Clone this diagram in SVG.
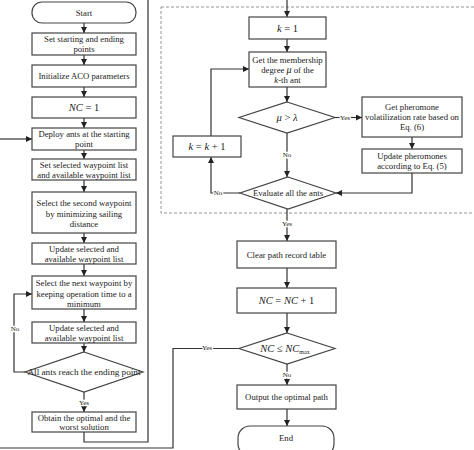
<svg xmlns="http://www.w3.org/2000/svg" width="474" height="450" viewBox="0 0 474 450">
<defs>
<marker id="ah" markerWidth="6" markerHeight="6" refX="6" refY="3" orient="auto" markerUnits="userSpaceOnUse">
<path d="M0,0 L6,3 L0,6 z" fill="#222"/>
</marker>
<style>
.b{fill:#fff;stroke:#444;stroke-width:1.2}
.c{fill:none;stroke:#333;stroke-width:1.2}
.t{font-family:"Liberation Serif","Times New Roman",serif;font-size:8.7px;fill:#222;text-anchor:middle}
.m{font-family:"Liberation Serif","Times New Roman",serif;font-size:10.5px;fill:#222;text-anchor:middle}
.l{font-family:"Liberation Serif","Times New Roman",serif;font-size:7px;fill:#222;text-anchor:middle;stroke:#fff;stroke-width:2.5;paint-order:stroke}
.i{font-style:italic}
.d{fill:none;stroke:#888;stroke-width:0.9;stroke-dasharray:3,2}
</style>
</defs>
<rect width="474" height="450" fill="#fff"/>
<rect id="loopbox" class="d" x="161" y="7" width="330" height="206"/>
<g id="connectors">
<path class="c" d="M84,23 V33" marker-end="url(#ah)"/>
<path class="c" d="M84,55 V65" marker-end="url(#ah)"/>
<path class="c" d="M84,87 V97" marker-end="url(#ah)"/>
<path class="c" d="M84,118 V128" marker-end="url(#ah)"/>
<path class="c" d="M0,139 H32" marker-end="url(#ah)"/>
<path class="c" d="M84,150 V159" marker-end="url(#ah)"/>
<path class="c" d="M84,180 V192" marker-end="url(#ah)"/>
<path class="c" d="M84,233 V243" marker-end="url(#ah)"/>
<path class="c" d="M84,264 V276" marker-end="url(#ah)"/>
<path class="c" d="M84,309 V322" marker-end="url(#ah)"/>
<path class="c" d="M84,343 V352" marker-end="url(#ah)"/>
<path class="c" d="M25,372 H14 V294 H32" marker-end="url(#ah)"/>
<path class="c" d="M84,392 V412" marker-end="url(#ah)"/>
<path class="c" d="M84,432 V442 H148 V0"/>
<path class="c" d="M287,0 V17" marker-end="url(#ah)"/>
<path class="c" d="M287,39 V52" marker-end="url(#ah)"/>
<path class="c" d="M287,87 V102" marker-end="url(#ah)"/>
<path class="c" d="M335,117.5 H362" marker-end="url(#ah)"/>
<path class="c" d="M412,137 V149" marker-end="url(#ah)"/>
<path class="c" d="M412,173 V193 H336" marker-end="url(#ah)"/>
<path class="c" d="M287,133 V177" marker-end="url(#ah)"/>
<path class="c" d="M240,193 H211 V157" marker-end="url(#ah)"/>
<path class="c" d="M211,136 V69 H249" marker-end="url(#ah)"/>
<path class="c" d="M287,209 V241" marker-end="url(#ah)"/>
<path class="c" d="M287,268 V288" marker-end="url(#ah)"/>
<path class="c" d="M287,313 V333" marker-end="url(#ah)"/>
<path class="c" d="M239,348.5 H173 V448 H0"/>
<path class="c" d="M287,364 V385" marker-end="url(#ah)"/>
<path class="c" d="M287,409 V426" marker-end="url(#ah)"/>
<text class="l" x="15" y="331">No</text>
<text class="l" x="84" y="405">Yes</text>
<text class="l" x="345" y="120">Yes</text>
<text class="l" x="287" y="157">No</text>
<text class="l" x="218" y="195">No</text>
<text class="l" x="287" y="226">Yes</text>
<text class="l" x="207" y="350">Yes</text>
<text class="l" x="287" y="377">No</text>
</g>
<g id="start"><rect class="b" x="32" y="2" width="104" height="21" rx="10"/><text class="t" x="84" y="16">Start</text></g>
<g id="setpoints"><rect class="b" x="32" y="33" width="104" height="22"/><text class="t" x="84" y="42">Set starting and ending</text><text class="t" x="84" y="52">points</text></g>
<g id="initaco"><rect class="b" x="32" y="65" width="104" height="22"/><text class="t" x="84" y="79">Initialize ACO parameters</text></g>
<g id="nc1"><rect class="b" x="32" y="97" width="104" height="21"/><text class="m" x="84" y="111"><tspan class="i">NC</tspan> = 1</text></g>
<g id="deploy"><rect class="b" x="32" y="128" width="104" height="22"/><text class="t" x="84" y="137">Deploy ants at the starting</text><text class="t" x="84" y="147">point</text></g>
<g id="setlist"><rect class="b" x="32" y="159" width="104" height="21"/><text class="t" x="84" y="168">Set selected waypoint list</text><text class="t" x="84" y="178">and available waypoint list</text></g>
<g id="second"><rect class="b" x="32" y="192" width="104" height="41"/><text class="t" x="84" y="206">Select the second waypoint</text><text class="t" x="84" y="216.5">by minimizing sailing</text><text class="t" x="84" y="227">distance</text></g>
<g id="update1"><rect class="b" x="32" y="243" width="104" height="21"/><text class="t" x="84" y="252">Update selected and</text><text class="t" x="84" y="262">available waypoint list</text></g>
<g id="next"><rect class="b" x="32" y="276" width="104" height="33"/><text class="t" x="84" y="286">Select the next waypoint by</text><text class="t" x="84" y="296.5">keeping operation time to a</text><text class="t" x="84" y="307">minimum</text></g>
<g id="update2"><rect class="b" x="32" y="322" width="104" height="21"/><text class="t" x="84" y="331">Update selected and</text><text class="t" x="84" y="341">available waypoint list</text></g>
<g id="allants"><path class="b" d="M84,352 L143,372 L84,392 L25,372 Z"/><text class="t" x="84" y="375" style="font-size:9.2px">All ants reach the ending point</text></g>
<g id="obtain"><rect class="b" x="32" y="412" width="104" height="20"/><text class="t" x="84" y="421">Obtain the optimal and the</text><text class="t" x="84" y="430">worst solution</text></g>
<g id="k1"><rect class="b" x="249" y="17" width="77" height="22"/><text class="m" x="287.5" y="31.5"><tspan class="i">k</tspan> = 1</text></g>
<g id="membership"><rect class="b" x="249" y="52" width="77" height="35"/><text class="t" x="287.5" y="63">Get the membership</text><text class="t" x="287.5" y="73">degree <tspan class="i" style="font-size:10px">μ</tspan> of the</text><text class="t" x="287.5" y="83"><tspan class="i">k</tspan>-th ant</text></g>
<g id="mugtlambda"><path class="b" d="M287,102 L335,117.5 L287,133 L239,117.5 Z"/><text class="m" x="287" y="121"><tspan class="i">μ</tspan> &gt; <tspan class="i">λ</tspan></text></g>
<g id="volatilization"><rect class="b" x="362" y="97" width="100" height="40"/><text class="t" x="412" y="110">Get pheromone</text><text class="t" x="412" y="120">volatilization rate based on</text><text class="t" x="412" y="130">Eq. (6)</text></g>
<g id="updatepher"><rect class="b" x="362" y="149" width="100" height="24"/><text class="t" x="412" y="159">Update pheromones</text><text class="t" x="412" y="169">according to Eq. (5)</text></g>
<g id="evaluate"><path class="b" d="M288,177 L336,193 L288,209 L240,193 Z"/><text class="t" x="288" y="196">Evaluate all the ants</text></g>
<g id="kinc"><rect class="b" x="173" y="136" width="68" height="21"/><text class="m" x="207" y="150"><tspan class="i">k</tspan> = <tspan class="i">k</tspan> + 1</text></g>
<g id="clear"><rect class="b" x="237" y="241" width="99" height="27"/><text class="t" x="286.5" y="257.5">Clear path record table</text></g>
<g id="ncinc"><rect class="b" x="237" y="288" width="99" height="25"/><text class="m" x="286.5" y="304"><tspan class="i">NC</tspan> = <tspan class="i">NC</tspan> + 1</text></g>
<g id="ncmax"><path class="b" d="M287,333 L335,348.5 L287,364 L239,348.5 Z"/><text class="m" x="285" y="352"><tspan class="i">NC</tspan> ≤ <tspan class="i">NC</tspan><tspan style="font-size:6px" dy="2">max</tspan></text></g>
<g id="output"><rect class="b" x="237" y="385" width="99" height="24"/><text class="t" x="286.5" y="400">Output the optimal path</text></g>
<g id="end"><rect class="b" x="238" y="426" width="96" height="30" rx="12"/><text class="t" x="286" y="441">End</text></g>
</svg>
